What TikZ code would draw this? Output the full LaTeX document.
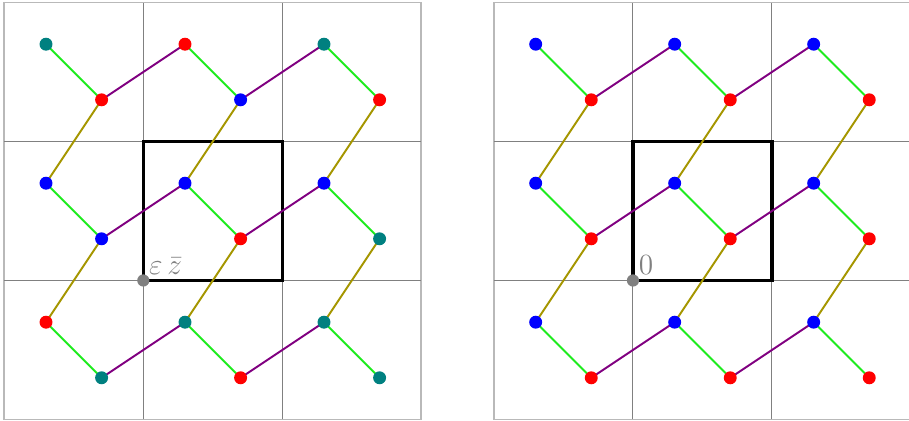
\documentclass[tikz,border=0pt]{standalone}
\definecolor{cteal}{RGB}{0,128,128}
\definecolor{cgreen}{RGB}{30,235,30}
\definecolor{cpurple}{RGB}{128,0,128}
\definecolor{colive}{RGB}{165,150,0}
\definecolor{cred}{RGB}{255,0,0}
\definecolor{cblue}{RGB}{0,0,255}
\begin{document}
\begin{tikzpicture}[x=2cm,y=2cm,
  dot/.style={circle,fill=#1,draw=none,inner sep=0pt,minimum size=5.3pt},
  gedge/.style={cgreen,line width=0.8pt},
  pedge/.style={cpurple,line width=0.8pt},
  oedge/.style={colive,line width=0.8pt},
  frame/.style={gray!55,line width=0.7pt},
  gridline/.style={gray,line width=0.4pt},
  cellbox/.style={black,line width=1.4pt},
  origin/.style={circle,fill=gray,draw=none,inner sep=0pt,minimum size=5pt},
  lab/.style={anchor=south west,inner sep=2.2pt,text=gray,font=\fontsize{12.5}{14}\selectfont}]
\useasboundingbox (-0.031,-0.004) rectangle (6.509,3.018);
\foreach \p/\ox in {L/0,R/3.523}{
  \begin{scope}[xshift=\ox*2cm]
    \draw[frame] (0,0) rectangle (3,3);
    \draw[gridline] (1,0) -- (1,3) (2,0) -- (2,3) (0,1) -- (3,1) (0,2) -- (3,2);
    \draw[cellbox] (1,1) rectangle (2,2);
    \foreach \i in {0,1,2}{
      \foreach \j in {0,1,2}{
        \coordinate (\p-A-\i-\j) at (\i+0.3,\j+0.7);
        \coordinate (\p-B-\i-\j) at (\i+0.7,\j+0.3);
      }
    }
    \foreach \i in {0,1,2}{
      \foreach \j in {0,1,2}{
        \draw[gedge] (\p-A-\i-\j) -- (\p-B-\i-\j);
      }
    }
    \foreach \i/\k in {0/1,1/2}{
      \foreach \j in {0,1,2}{
        \draw[pedge] (\p-B-\i-\j) -- (\p-A-\k-\j);
      }
    }
    \foreach \i in {0,1,2}{
      \foreach \j/\m in {1/0,2/1}{
        \draw[oedge] (\p-B-\i-\j) -- (\p-A-\i-\m);
      }
    }
    \coordinate (\p-O) at (1,1);
  \end{scope}
}
% left panel dots
\foreach \i/\j/\ca/\cb in {0/2/cteal/cred, 1/2/cred/cblue, 2/2/cteal/cred,
                           0/1/cblue/cblue, 1/1/cblue/cred, 2/1/cblue/cteal,
                           0/0/cred/cteal, 1/0/cteal/cred, 2/0/cteal/cteal}{
  \node[dot=\ca] (L-a-\i-\j) at (L-A-\i-\j) {};
  \node[dot=\cb] (L-b-\i-\j) at (L-B-\i-\j) {};
}
% right panel dots
\foreach \i in {0,1,2}{
  \foreach \j in {0,1,2}{
    \node[dot=cblue] (R-a-\i-\j) at (R-A-\i-\j) {};
    \node[dot=cred] (R-b-\i-\j) at (R-B-\i-\j) {};
  }
}
\node[origin] (L-o) at (L-O) {};
\node[lab] (L-lab) at (L-O) {$\varepsilon\,\bar z$};
\node[origin] (R-o) at (R-O) {};
\node[lab] (R-lab) at (R-O) {$0$};
\end{tikzpicture}
\end{document}
